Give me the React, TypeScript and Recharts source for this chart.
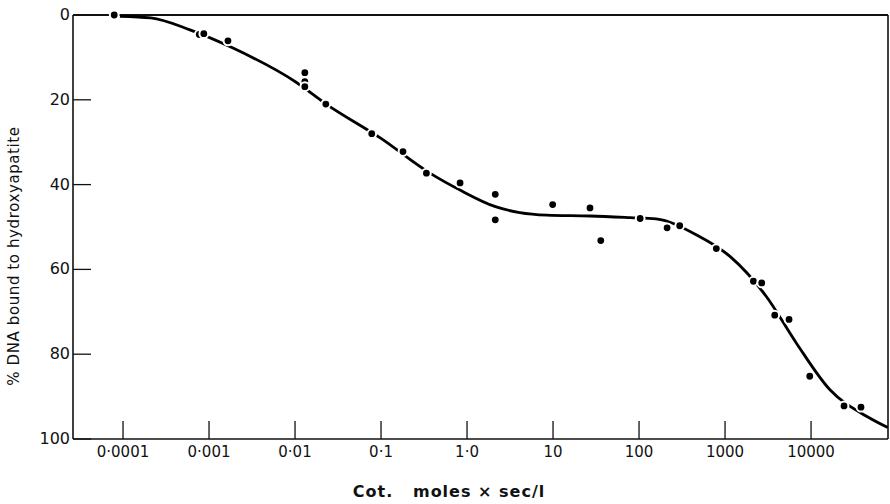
import React from "react";
import {
  ComposedChart,
  Line,
  Scatter,
  XAxis,
  YAxis,
  ReferenceLine,
} from "recharts";

// Cot values (moles x sec/l) and % bound
const pointCot = [
  0.000079, 0.00077, 0.00087, 0.00166, 0.013, 0.013, 0.013, 0.0228, 0.078,
  0.18, 0.337, 0.83, 2.13, 2.13, 9.9, 26.9, 35.9, 103, 212, 297, 792, 2137,
  2670, 3783, 5550, 9660, 24200, 38100,
];
const pointBound = [
  0, 4.6, 4.4, 6.1, 13.6, 15.7, 16.9, 21, 28, 32.2, 37.3, 39.6, 42.3, 48.3,
  44.7, 45.5, 53.2, 48, 50.2, 49.7, 55.1, 62.8, 63.2, 70.8, 71.8, 85.2, 92.2,
  92.5,
];

// hand-drawn fitted curve
const curveCot = [
  0.000092, 0.00021, 0.0006, 0.0019, 0.0102, 0.023, 0.098, 0.37, 0.83, 2.14,
  4.1, 8.5, 27, 79, 158, 468, 1150, 3020, 6760, 16600, 44700, 78000,
];
const curveBound = [
  0.3, 0.7, 3.5, 7.8, 15.8, 21, 29, 37.3, 41.3, 45.2, 46.6, 47.2, 47.4, 47.8,
  48.1, 51.9, 57, 66.4, 77.4, 88.4, 94.7, 97.3,
];

const xTicks = [0.0001, 0.001, 0.01, 0.1, 1, 10, 100, 1000, 10000];
const xTickLabels = [
  "0·0001",
  "0·001",
  "0·01",
  "0·1",
  "1·0",
  "10",
  "100",
  "1000",
  "10000",
];
const yTicks = [0, 20, 40, 60, 80, 100];

const X_MIN = 0.0000262;
const X_MAX = 78500;

const points = pointCot.map((c, i) => ({ cot: c, bound: pointBound[i] }));
const curve = curveCot.map((c, i) => ({ cot: c, bound: curveBound[i] }));

const FONT = "'DejaVu Sans', sans-serif";

const XTick = (props: any) => {
  const { x, y, payload } = props;
  const idx = xTicks.indexOf(payload.value);
  return (
    <g>
      <line x1={x} x2={x} y1={y - 6} y2={y - 24} stroke="#111" strokeWidth={1.3} />
      <text
        x={x}
        y={y + 12}
        textAnchor="middle"
        fontSize={15}
        fontFamily={FONT}
        fill="#111"
      >
        {idx >= 0 ? xTickLabels[idx] : payload.value}
      </text>
    </g>
  );
};

const YTick = (props: any) => {
  const { x, y, payload } = props;
  return (
    <g>
      <line x1={x + 3} x2={x + 21} y1={y} y2={y} stroke="#111" strokeWidth={1.3} />
      <text
        x={x}
        y={y + 5}
        textAnchor="end"
        fontSize={16}
        fontFamily={FONT}
        fill="#111"
      >
        {payload.value}
      </text>
    </g>
  );
};

const Dot = (props: any) => {
  const { cx, cy } = props;
  if (cx == null || cy == null) return null;
  return <circle cx={cx} cy={cy} r={4.4} fill="#000" stroke="#fff" strokeWidth={2} />;
};

export default function App() {
  return (
    <div style={{ position: "absolute", left: 0, top: 0, background: "#fff" }}>
      <ComposedChart
        width={890}
        height={504}
        margin={{ top: 15, right: 2, bottom: 0, left: 0 }}
      >
        <XAxis
          dataKey="cot"
          type="number"
          scale="log"
          domain={[X_MIN, X_MAX]}
          allowDataOverflow
          ticks={xTicks}
          tickSize={0}
          tickMargin={6}
          tick={XTick}
          tickLine={false}
          height={65}
          axisLine={{ stroke: "#111", strokeWidth: 1.6 }}
          label={{
            content: () => (
              <text
                x={449}
                y={497}
                textAnchor="middle"
                fontSize={16}
                letterSpacing={1}
                fontWeight="bold"
                fontFamily={FONT}
                fill="#111"
              >
                {"Cot.\u00a0\u00a0 moles × sec/l"}
              </text>
            ),
          }}
        />
        <YAxis
          dataKey="bound"
          type="number"
          reversed
          domain={[0, 100]}
          ticks={yTicks}
          width={73}
          tickSize={0}
          tickMargin={3}
          tick={YTick}
          tickLine={false}
          axisLine={{ stroke: "#111", strokeWidth: 1.6 }}
          label={{
            content: () => (
              <text
                x={19}
                y={256}
                transform="rotate(-90, 19, 256)"
                textAnchor="middle"
                fontSize={15}
                letterSpacing={0.6}
                fontFamily={FONT}
                fill="#111"
              >
                % DNA bound to hydroxyapatite
              </text>
            ),
          }}
        />
        <ReferenceLine y={0} stroke="#111" strokeWidth={2.2} />
        <ReferenceLine x={X_MAX} stroke="#111" strokeWidth={1.6} />
        <Line
          data={curve}
          dataKey="bound"
          type="monotone"
          stroke="#000"
          strokeWidth={2.8}
          dot={false}
          activeDot={false}
          isAnimationActive={false}
        />
        <Scatter
          data={points}
          dataKey="bound"
          shape={Dot}
          isAnimationActive={false}
        />
      </ComposedChart>
    </div>
  );
}
